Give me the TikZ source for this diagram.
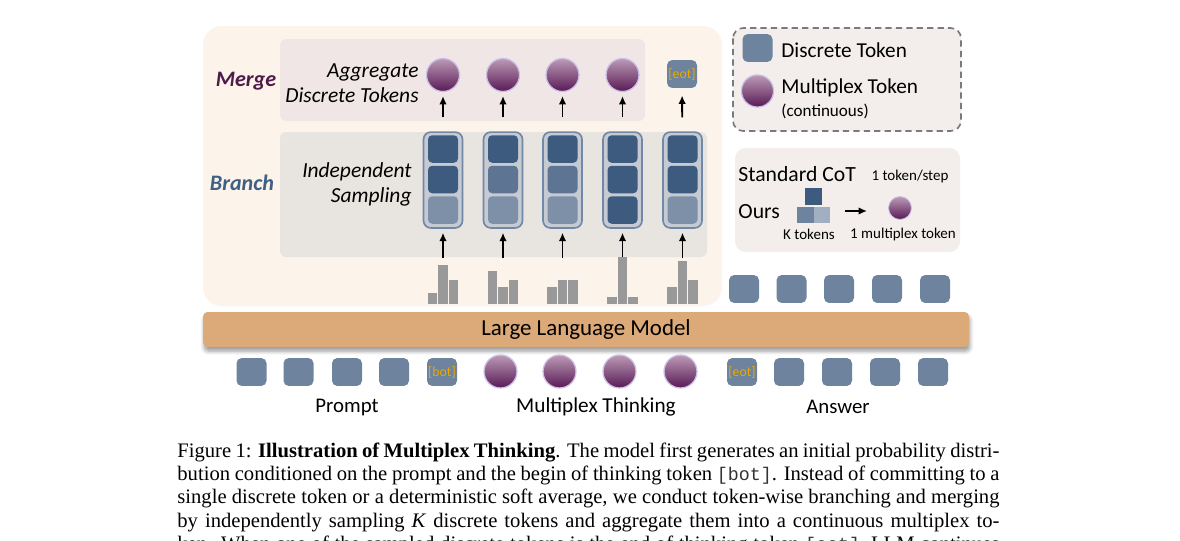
\documentclass[tikz,border=0pt]{standalone}
\usepackage{fontspec}
\setmainfont{Carlito}
\newfontfamily\capfont{Liberation Serif}
\newfontfamily\capmono{Liberation Mono}
\usetikzlibrary{arrows.meta,shadows.blur}

\definecolor{panelbg}{HTML}{FCF3EA}
\definecolor{mergebg}{HTML}{F0E6E6}
\definecolor{branchbg}{HTML}{E8E4E0}
\definecolor{legendbg}{HTML}{F3EEEC}
\definecolor{tokblue}{HTML}{6D839E}
\definecolor{cdark}{HTML}{3D5B7F}
\definecolor{cmed}{HTML}{5D7592}
\definecolor{clight}{HTML}{7D90A8}
\definecolor{cpale}{HTML}{A2AFC0}
\definecolor{stackbg}{HTML}{C6CAD2}
\definecolor{stackedge}{HTML}{7188A6}
\definecolor{mtop}{HTML}{BC9AB6}
\definecolor{mbot}{HTML}{581A55}
\definecolor{mrim}{HTML}{CBBEE6}
\definecolor{eotgold}{HTML}{EBA900}
\definecolor{llmtan}{HTML}{DCAA78}
\definecolor{bargray}{HTML}{999999}
\definecolor{mergepurple}{HTML}{4E1B4C}
\definecolor{branchblue}{HTML}{3F5F85}
\definecolor{dashgray}{HTML}{7A7A7A}
\definecolor{monogray}{HTML}{333333}

\tikzset{
  tok/.style={rectangle, rounded corners=2.5pt, fill=tokblue, minimum width=14.4pt, minimum height=13.4pt, inner sep=0pt},
  mtok/.style={circle, minimum size=15.8pt, inner sep=0pt, top color=mtop, bottom color=mbot, draw=mrim, line width=0.6pt},
  special/.style={tok, text=eotgold, font=\fontsize{6.6}{7}\selectfont},
  cell/.style={rectangle, rounded corners=2pt, minimum width=14.4pt, minimum height=13.2pt, inner sep=0pt},
  stackbox/.style={rectangle, rounded corners=3.5pt, fill=stackbg, draw=stackedge, line width=0.8pt, minimum width=18.7pt, minimum height=46pt, inner sep=0pt},
  kbox/.style={rectangle, minimum size=7.7pt, inner sep=0pt},
  upar/.style={-{Latex[length=4pt,width=3.6pt]}, line width=0.9pt},
  lbl/.style={inner sep=0pt, font=\fontsize{10}{12}\selectfont},
  small/.style={inner sep=0pt, font=\fontsize{7.2}{8}\selectfont},
  capline/.style={anchor=base west, inner sep=0pt, font=\capfont\fontsize{9.9}{11}\selectfont},
}
\newcommand{\captt}[1]{{\capmono\fontsize{8.8}{11}\selectfont\color{monogray}#1}}

\begin{document}
\begin{tikzpicture}[x=0.48pt,y=-0.48pt]
  \useasboundingbox (0,0) rectangle (1180,540);

  % panels
  \fill[panelbg, rounded corners=9pt] (203,26) rectangle (722,306);
  \fill[mergebg, rounded corners=3pt] (280,39) rectangle (645,121);
  \fill[branchbg, rounded corners=3pt] (280,132) rectangle (707,257);

  \node[lbl, font=\fontsize{10.6}{12}\selectfont\bfseries\itshape, text=mergepurple] (lblmerge) at (246,81) {Merge};
  \node[lbl, font=\fontsize{10.6}{12}\selectfont\bfseries\itshape, text=branchblue] (lblbranch) at (242,183) {Branch};
  \node[lbl, font=\fontsize{10.3}{12}\selectfont\itshape, align=right, anchor=east] (agg) at (419,83) {Aggregate\\Discrete Tokens};
  \node[lbl, font=\fontsize{10.3}{12}\selectfont\itshape, align=right, anchor=east] (indep) at (412,184) {Independent\\Sampling};

  % branch: sampled stacks
  \foreach \i/\x/\cb/\cc in {1/443/cdark/clight, 2/503/cmed/clight, 3/562.5/cmed/clight, 4/622.5/cdark/cdark, 5/682.5/cdark/clight} {
    \node[stackbox] (s\i) at (\x,180) {};
    \node[cell, fill=cdark] (s\i a) at (\x,149) {};
    \node[cell, fill=\cb] (s\i b) at (\x,179.5) {};
    \node[cell, fill=\cc] (s\i c) at (\x,210) {};
    \coordinate (h\i) at (\x,258);
    \draw[upar, shorten >=1.9pt] (h\i) -- (s\i);
  }

  % histograms
  \foreach \x/\ha/\hb/\hc in {443/11/39/24, 503/33/17/24, 562.5/17/24/24, 622.5/7/47/7, 682.5/17/43/24} {
    \fill[bargray] ({\x-15.25},304) rectangle ({\x-5.75},{304-\ha});
    \fill[bargray] ({\x-4.75},304) rectangle ({\x+4.75},{304-\hb});
    \fill[bargray] ({\x+5.75},304) rectangle ({\x+15.25},{304-\hc});
  }

  % merge: multiplex tokens
  \foreach \i/\x in {1/443, 2/503, 3/562.5, 4/622.5} {
    \node[mtok] (m\i) at (\x,75) {};
    \draw[upar, shorten <=6.7pt, shorten >=1.9pt] (s\i) -- (m\i);
  }
  \node[special] (topeot) at (682,74) {[eot]};
  \draw[upar, shorten <=6.7pt, shorten >=3.4pt] (s5) -- (topeot);

  % answer tokens produced
  \foreach \i/\x in {1/744, 2/791.5, 3/839, 4/887, 5/935}
    \node[tok] (out\i) at (\x,289) {};

  % legend
  \draw[dashgray, dashed, dash pattern=on 3pt off 2pt, line width=0.8pt, rounded corners=5pt, fill=legendbg] (733,28) rectangle (961,131);
  \node[tok] (legtok) at (757.5,48) {};
  \node[mtok, minimum size=15.4pt] (legm) at (757.5,91) {};
  \node[lbl, anchor=west, font=\fontsize{10.2}{12}\selectfont] (legtxt1) at (781,50) {Discrete Token};
  \node[lbl, anchor=west, font=\fontsize{10.2}{12}\selectfont] (legtxt2) at (781,88) {Multiplex Token};
  \node[small, anchor=west, font=\fontsize{8.2}{9}\selectfont] (legtxt3) at (781,111) {(continuous)};

  % standard CoT vs ours
  \fill[legendbg, rounded corners=5pt] (735,148) rectangle (960,252);
  \node[lbl, anchor=west, font=\fontsize{10.4}{12}\selectfont] (cot) at (738,174) {Standard CoT};
  \node[small] (cotstep) at (910,176) {1 token/step};
  \node[lbl, anchor=west, font=\fontsize{10.4}{12}\selectfont] (ours) at (738,212) {Ours};
  \node[kbox, fill=cdark] (k1) at (813.5,196.5) {};
  \node[kbox, fill=tokblue] (k2) at (805.5,215) {};
  \node[kbox, fill=cpale] (k3) at (822,215) {};
  \node[small] (ktxt) at (809,234) {K tokens};
  \node[mtok, minimum size=11pt, line width=0.4pt] (om) at (900,208) {};
  \node[small] (omtxt) at (903,234) {1 multiplex token};
  \coordinate (oa) at (845,211);
  \coordinate (ob) at (867,211);
  \draw[upar] (oa) -- (ob);

  % LLM
  \node[fill=llmtan, rounded corners=2pt, minimum width=367.5pt, minimum height=16.8pt, inner sep=0pt,
        blur shadow={shadow xshift=0.5pt, shadow yshift=-2pt, shadow blur steps=6},
        font=\fontsize{11}{12}\selectfont] (llm) at (586,329.5) {Large Language Model};

  % input sequence
  \foreach \i/\x in {1/251.5, 2/298.5, 3/347, 4/394}
    \node[tok] (p\i) at (\x,372) {};
  \node[special] (bot) at (442,372) {[bot]};
  \foreach \i/\x in {1/500.5, 2/559.5, 3/619.5, 4/680.5}
    \node[mtok] (t\i) at (\x,371.5) {};
  \node[special] (eot) at (742,372) {[eot]};
  \foreach \i/\x in {1/789, 2/837, 3/885, 4/933}
    \node[tok] (a\i) at (\x,372) {};

  \node[lbl] (lprompt) at (347,407) {Prompt};
  \node[lbl, font=\fontsize{10.2}{12}\selectfont] (lthink) at (596,407) {Multiplex Thinking};
  \node[lbl] (lanswer) at (838,407) {Answer};

  % caption
  \node[capline] (cap1) at (177,457) {\makebox[394.6pt][s]{Figure 1: \textbf{Illustration of Multiplex Thinking}. The model first generates an initial probability distri-}};
  \node[capline] (cap2) at (177,480.3) {\makebox[394.6pt][s]{bution conditioned on the prompt and the begin of thinking token \captt{[bot]}. Instead of committing to a}};
  \node[capline] (cap3) at (177,503.6) {\makebox[394.6pt][s]{single discrete token or a deterministic soft average, we conduct token-wise branching and merging}};
  \node[capline] (cap4) at (177,527) {\makebox[394.6pt][s]{by independently sampling \textit{K} discrete tokens and aggregate them into a continuous multiplex to-}};
  \node[capline] (cap5) at (177,550.3) {\makebox[394.6pt][s]{ken. When one of the sampled discrete tokens is the end of thinking token \captt{[eot]}, LLM continues}};
\end{tikzpicture}
\end{document}
